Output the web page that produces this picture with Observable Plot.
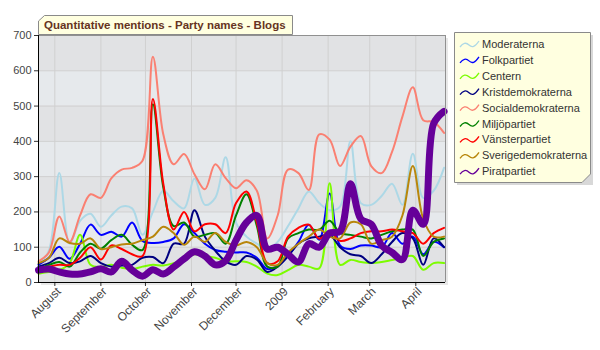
<!DOCTYPE html>
<html><head><meta charset="utf-8">
<script src="https://cdn.jsdelivr.net/npm/d3@7"></script>
<script src="https://cdn.jsdelivr.net/npm/@observablehq/plot@0.6"></script>
<style>
body{margin:0;background:#fff;}
#wrap{position:relative;width:600px;height:350px;}
#wrap > svg{position:absolute;left:0;top:0;}
#overlay{position:absolute;left:0;top:0;pointer-events:none;}
</style>
</head><body>
<div id="wrap"></div>
<script>
const titleText = "Quantitative mentions - Party names - Blogs";
const dates = ["2008-07-21","2008-07-28","2008-08-04","2008-08-11","2008-08-18","2008-08-25","2008-09-01","2008-09-08","2008-09-15","2008-09-22","2008-09-29","2008-10-06","2008-10-13","2008-10-20","2008-10-27","2008-11-03","2008-11-10","2008-11-17","2008-11-24","2008-12-01","2008-12-08","2008-12-15","2008-12-22","2008-12-29","2009-01-05","2009-01-12","2009-01-19","2009-01-26","2009-02-02","2009-02-09","2009-02-16","2009-02-23","2009-03-02","2009-03-09","2009-03-16","2009-03-23","2009-03-30","2009-04-06","2009-04-13","2009-04-20"];
const xStart = "2008-07-21", xEnd = "2009-04-21";
const monthTicks = ["2008-08-01","2008-09-01","2008-10-01","2008-11-01","2008-12-01","2009-01-01","2009-02-01","2009-03-01","2009-04-01"];
const monthLabels = ["August","September","October","November","December","2009","February","March","April"];
const yTicks = [0,100,200,300,400,500,600,700];
const darkBands = [[0,100],[200,300],[400,500],[600,700]];

const parties = ["Moderaterna","Folkpartiet","Centern","Kristdemokraterna","Socialdemokraterna","Miljöpartiet","Vänsterpartiet","Sverigedemokraterna","Piratpartiet"];
const partyColors = ["#add8e6","#0000ff","#7cfc00","#000080","#fa8072","#008000","#ff0000","#b8860b","#660099"];
const partyWidths = [2,2,2,2,2,2,2,2,7];

const moderaterna = [50,90,310,110,175,195,158,190,215,210, 135,200,260,230,210,295,220,240,355,170, 130,110,95,115,160,210,258,225,205,215, 400,225,220,245,280,220,365,240,260,325];
const folkpartiet = [50,70,101,67,110,164,135,144,130,170, 118,112,115,125,165,140,110,92,87,85, 85,70,38,48,75,115,164,121,252,105, 95,105,105,100,140,110,130,80,115,100];
const centern = [25,30,35,55,135,50,44,50,42,38, 45,50,48,55,65,80,75,70,60,60, 58,45,25,21,35,50,45,40,281,50, 64,58,55,58,64,70,75,36,55,55];
const kristdemokraterna = [45,55,70,55,60,75,55,45,48,50, 70,72,55,110,110,205,130,90,60,50, 75,65,30,45,75,110,125,130,135,100, 80,75,55,80,115,140,125,50,125,100];
const socialdemokraterna = [60,85,187,115,190,250,240,295,320,325, 345,640,420,335,364,307,264,335,296,267, 290,260,125,190,320,310,262,420,405,330, 385,415,330,310,370,470,553,460,455,424];
const miljopartiet = [40,50,58,45,85,110,96,120,135,107, 92,505,270,160,170,130,135,140,110,190, 250,160,45,45,125,140,150,150,175,140, 135,130,125,135,145,150,150,75,115,125];
const vansterpartiet = [40,45,50,50,70,100,65,105,95,80, 75,520,280,150,200,145,165,165,140,225, 258,170,55,60,130,155,164,124,145,118, 125,140,145,145,150,145,140,110,140,155];
const sverigedemokraterna = [55,70,125,112,110,125,95,100,108,110, 120,130,158,140,107,130,115,140,115,105, 115,100,55,50,85,110,130,150,130,125, 170,165,110,120,130,190,330,180,130,130];
const piratpartiet = [35,38,30,24,24,30,39,30,60,35, 18,36,24,44,67,87,75,50,62,120, 170,190,95,100,80,58,110,100,140,145, 280,180,165,105,85,65,205,165,450,485];

const seriesValues = [moderaterna,folkpartiet,centern,kristdemokraterna,socialdemokraterna,miljopartiet,vansterpartiet,sverigedemokraterna,piratpartiet];

const toDate = s => new Date(s + "T00:00:00Z");
const xDomain = [toDate(xStart), toDate(xEnd)];
const tickDates = monthTicks.map(toDate);

const lineMarks = parties.map((name, s) => {
  const rows = dates.map((d, i) => ({date: toDate(d), value: seriesValues[s][i]}));
  return Plot.lineY(rows, {x: "date", y: "value", stroke: partyColors[s], strokeWidth: partyWidths[s], curve: "catmull-rom", strokeLinejoin: "round", strokeLinecap: "round"});
});

const chart = Plot.plot({
  width: 600, height: 350,
  marginLeft: 38, marginRight: 155, marginTop: 35, marginBottom: 68,
  style: {background: "transparent", fontFamily: "'Liberation Sans', Arial, sans-serif", fontSize: "11px", color: "#333"},
  x: {type: "utc", domain: xDomain},
  y: {domain: [0, 700]},
  marks: [
    Plot.rect([0], {x1: () => xDomain[0], x2: () => xDomain[1], y1: () => 0, y2: () => 700, fill: "#d8d8d8", dx: 3, dy: 3, fillOpacity: 0.6}),
    Plot.rect([0], {x1: () => xDomain[0], x2: () => xDomain[1], y1: () => 0, y2: () => 700, fill: "#e6e9ec"}),
    Plot.rect(darkBands, {x1: () => xDomain[0], x2: () => xDomain[1], y1: d => d[0], y2: d => d[1], fill: "#e1e2e4"}),
    Plot.gridX(tickDates, {stroke: "#d0d0d0", strokeOpacity: 1}),
    Plot.gridY(yTicks, {stroke: "#d0d0d0", strokeOpacity: 1}),
    Plot.axisY(yTicks, {tickSize: 4, tickPadding: 3, label: null, fill: "#444"}),
    Plot.axisX(tickDates, {tickSize: 4, tickPadding: 2, tickRotate: -45, label: null, fill: "#444", fontSize: 12, textStroke: "none",
      tickFormat: d => monthLabels[tickDates.findIndex(t => +t === +d)]}),
    Plot.text(tickDates, {x: d => d, frameAnchor: "bottom", text: () => "", dx: 0}),
    ...lineMarks,
    Plot.ruleY([700], {stroke: "#909090"}),
    Plot.ruleX([xDomain[1]], {stroke: "#909090"}),
    Plot.ruleX([xDomain[0]], {stroke: "#000"}),
    Plot.ruleY([0], {stroke: "#000"})
  ]
});
// nudge rotated month labels slightly right, as in the reference
chart.querySelectorAll("g[aria-label='x-axis tick label'] text").forEach(t => {
  const tr = t.getAttribute("transform") || "";
  t.setAttribute("transform", "translate(4,1) " + tr);
});
document.getElementById("wrap").appendChild(chart);

// overlay: title box and legend
const ns = "http://www.w3.org/2000/svg";
const ov = document.createElementNS(ns, "svg");
ov.setAttribute("id", "overlay");
ov.setAttribute("width", 600); ov.setAttribute("height", 350);
function el(tag, attrs, parent) { const e = document.createElementNS(ns, tag); for (const k in attrs) e.setAttribute(k, attrs[k]); (parent || ov).appendChild(e); return e; }
// title
el("polygon", {points: "38.5,34.5 38.5,21 44.5,15.5 292.5,15.5 292.5,34.5", fill: "#ffffe0", stroke: "#8a8a8a"});
const tt = el("text", {x: 44, y: 29, fill: "#663322", "font-family": "'Liberation Sans', Arial, sans-serif", "font-size": "11.5", "font-weight": "bold"});
tt.textContent = titleText;
// legend
el("polygon", {points: "457,35 593,35 593,185 585,185 457,185", fill: "#c8c8c8", "fill-opacity": 0.7});
el("polygon", {points: "454.5,32.5 590.5,32.5 590.5,174 582,182.5 454.5,182.5", fill: "#ffffe0", stroke: "#8a8a8a"});
parties.forEach((name, i) => {
  const cy = 44 + i * 15.9;
  el("path", {d: `M460,${cy+3} C463,${cy-1} 466,${cy-2} 469,${cy+1} S475,${cy+3} 479,${cy-3}`, fill: "none", stroke: partyColors[i], "stroke-width": 1.3});
  const t = el("text", {x: 482, y: cy + 4, fill: "#333", "font-family": "'Liberation Sans', Arial, sans-serif", "font-size": "11"});
  t.textContent = name;
});
document.getElementById("wrap").appendChild(ov);
</script>
</body></html>
